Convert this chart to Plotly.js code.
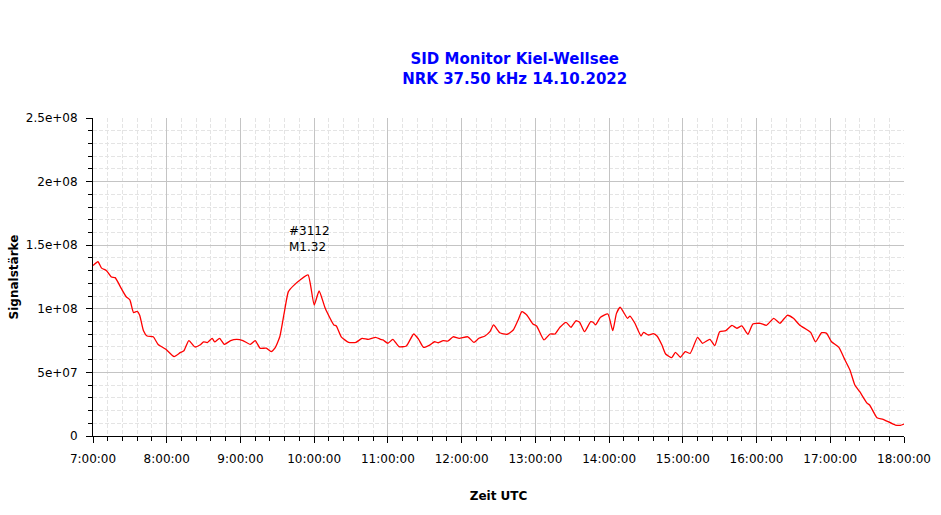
<!DOCTYPE html>
<html>
<head>
<meta charset="utf-8">
<script src="https://cdn.plot.ly/plotly-3.0.1.min.js"></script>
<style>
  html, body { margin: 0; padding: 0; background: #fff; }
  #chart { width: 941px; height: 515px; }
</style>
</head>
<body>
<div id="chart"></div>
<script>
// SID Monitor Kiel-Wellsee, NRK 37.50 kHz, 14.10.2022
const day = '2022-10-14';
const times = [
  '07:00','07:04','07:07','07:11','07:15','07:18','07:23','07:27','07:30','07:33',
  '07:36','07:38','07:41','07:44','07:49','07:53','07:59','08:06','08:11','08:14',
  '08:18','08:23','08:27','08:30','08:33','08:37','08:39','08:43','08:47','08:52',
  '08:57','09:02','09:08','09:12','09:16','09:21','09:25','09:28','09:32','09:36',
  '09:39','09:43','09:49','09:55','10:00','10:04','10:09','10:16','10:18','10:22',
  '10:28','10:34','10:39','10:44','10:50','10:54','10:56','11:00','11:04','11:09',
  '11:15','11:21','11:25','11:29','11:34','11:38','11:41','11:45','11:49','11:53',
  '11:58','12:05','12:10','12:14','12:19','12:23','12:26','12:31','12:37','12:42',
  '12:46','12:49','12:53','12:58','13:01','13:07','13:12','13:16','13:20','13:25',
  '13:29','13:33','13:36','13:40','13:45','13:47','13:49','13:53','13:59','14:03',
  '14:06','14:09','14:15','14:17','14:21','14:26','14:28','14:32','14:36','14:39',
  '14:43','14:46','14:51','14:54','14:58','15:02','15:06','15:12','15:16','15:22',
  '15:26','15:30','15:35','15:40','15:44','15:48','15:53','15:57','16:03','16:08',
  '16:14','16:19','16:25','16:30','16:35','16:44','16:48','16:53','16:57','17:01',
  '17:07','17:12','17:16','17:20','17:24','17:30','17:32','17:38','17:43','17:53',
  '17:57','18:00'
];
// signal strength, millions
const signal = [
  134,137,132,130,125,124.5,116,109.5,107,97,
  98,95,83,78.6,78,72,68.4,62.4,65.5,67,
  75,70,71.5,74,73.5,76.8,74,76.8,72,75,
  76,75,72,75,69,69,66.3,69,78,99,
  113.5,118,123,126.6,103,114,100.4,87.3,86.5,78,
  73.6,73.6,76.8,76,77.6,76,75.5,72.9,76,70.2,
  70.8,80.2,76,69.7,71.5,74.1,73.3,75,74.7,78,
  76.8,78,73.6,76.8,78.6,82,87.3,81.2,80,83.3,
  91.2,97.7,95.1,88,86.5,75.5,80.2,80.2,85.5,89.4,
  85.5,90.6,89.4,82,89.9,89.4,87.3,93.3,95.9,82.8,
  96.4,101.2,92.5,94.3,88.6,78.6,81.5,79.4,80.4,78.6,
  71.5,64.5,61.6,65.8,61.9,66.3,65,77.6,72.9,76,
  71,82,82.8,87,84.7,86.5,80,88,88.6,87,
  92.5,88.6,94.9,92.5,87.3,81.5,74.1,81.2,80.7,74.1,
  69.7,59.7,51.9,40.1,34.8,25.7,24.4,14.4,13.1,8.6,
  8.4,9.4
];
const yTicks = [0, 50, 100, 150, 200, 250];
const yTickText = ['0', '5e+07', '1e+08', '1.5e+08', '2e+08', '2.5e+08'];

const flare = {time: '09:38', level: 155, label: '#3112<br>M1.32'};

const font = 'DejaVu Sans, Verdana, sans-serif';

Plotly.newPlot('chart', [{
  x: times.map(t => day + ' ' + t),
  y: signal,
  type: 'scatter',
  mode: 'lines',
  line: {color: '#ff0000', width: 1.3, shape: 'spline', smoothing: 0.5},
  hoverinfo: 'x+y'
}], {
  width: 941, height: 515,
  margin: {l: 93, r: 37, t: 118, b: 79},
  paper_bgcolor: '#fff', plot_bgcolor: '#fff',
  showlegend: false,
  font: {family: font, size: 12, color: '#000'},
  title: {
    text: '<b>SID Monitor Kiel-Wellsee<br>NRK 37.50 kHz 14.10.2022</b>',
    font: {family: font, size: 15, color: '#0000ff'},
    x: 0.52, xref: 'paper', xanchor: 'center',
    y: 0.875, yanchor: 'middle'
  },
  xaxis: {
    type: 'date',
    range: [day + ' 07:00', day + ' 18:00'],
    dtick: 3600000, tick0: day + ' 07:00',
    tickformat: '%-H:%M:%S',
    ticks: 'outside', ticklen: 6, tickcolor: '#000',
    ticklabelstandoff: 6,
    showline: true, linecolor: '#000', linewidth: 1,
    showgrid: true, gridcolor: '#c4c4c4', gridwidth: 1,
    zeroline: false,
    minor: {dtick: 720000, tick0: day + ' 07:00', ticks: 'outside', ticklen: 4,
            tickcolor: '#000', showgrid: true, gridcolor: '#e4e4e4', griddash: '4px,2px'},
    title: {text: '<b>Zeit UTC</b>', font: {family: font, size: 12}, standoff: 26}
  },
  yaxis: {
    range: [0, 250],
    tickmode: 'array', tickvals: yTicks, ticktext: yTickText,
    ticks: 'outside', ticklen: 6, tickcolor: '#000',
    ticklabelstandoff: 6,
    showline: true, linecolor: '#000', linewidth: 1,
    showgrid: true, gridcolor: '#c4c4c4', gridwidth: 1,
    zeroline: false,
    minor: {dtick: 10, tick0: 0, ticks: 'outside', ticklen: 4,
            tickcolor: '#000', showgrid: true, gridcolor: '#e4e4e4', griddash: '4px,2px'},
    title: {text: '<b>Signalstärke</b>', font: {family: font, size: 12}, standoff: 4}
  },
  annotations: [{
    x: day + ' ' + flare.time, y: flare.level,
    text: flare.label, showarrow: false,
    xanchor: 'left', yanchor: 'middle', align: 'left',
    font: {family: font, size: 12, color: '#000'}
  }]
}, {displayModeBar: false});
</script>
</body>
</html>
